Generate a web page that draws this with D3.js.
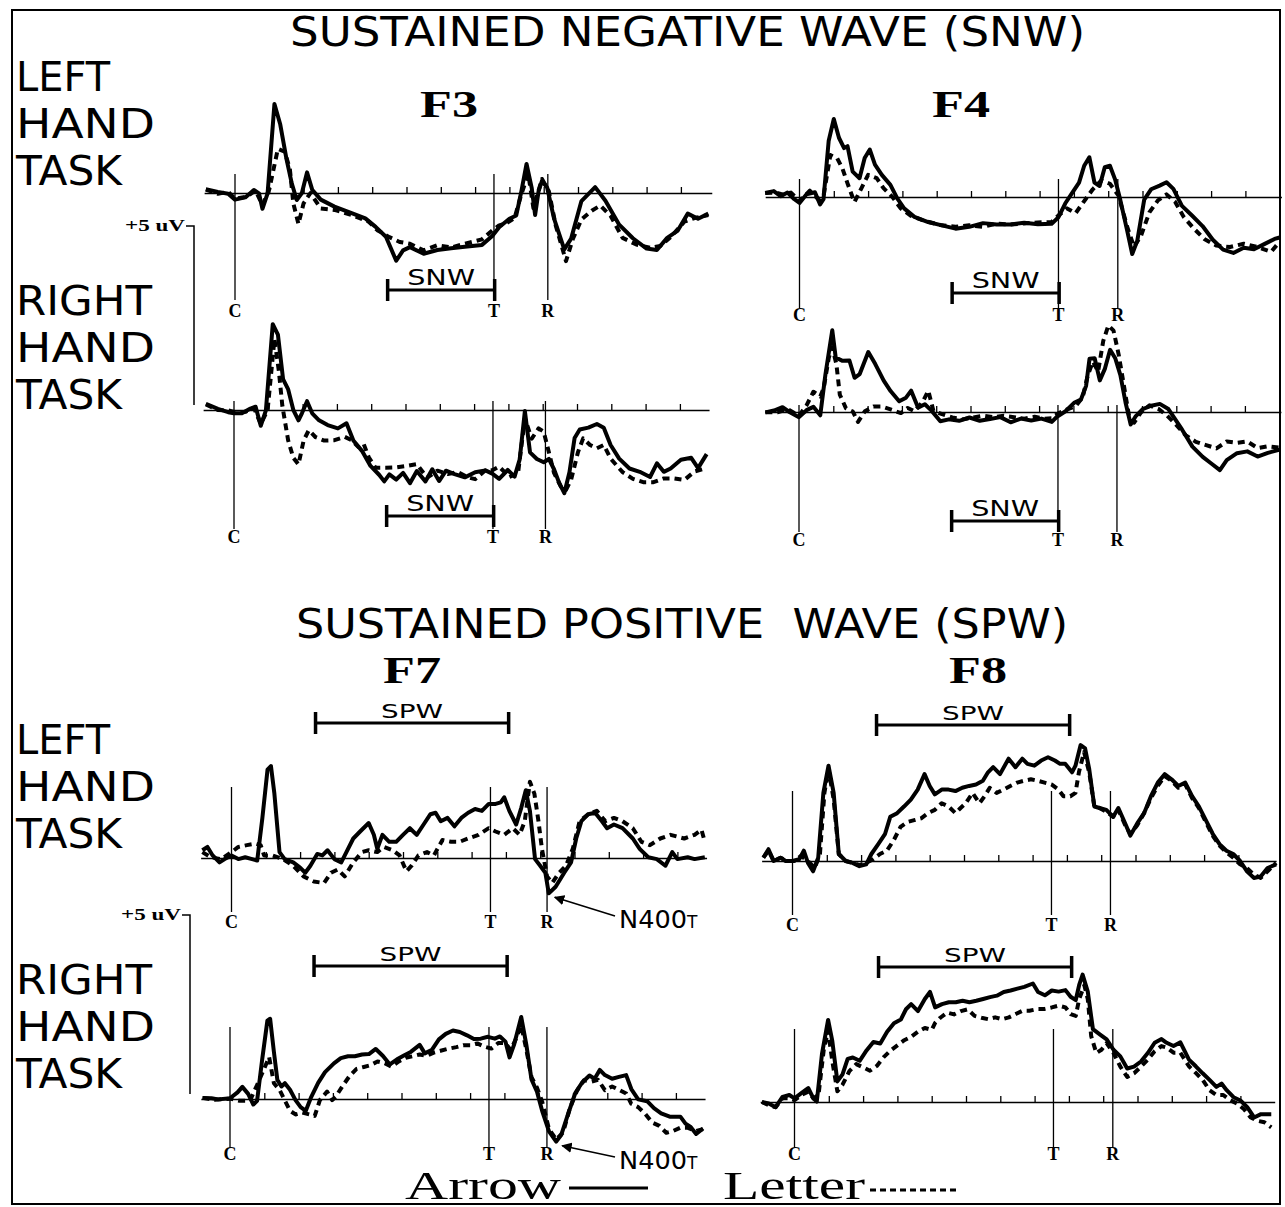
<!DOCTYPE html>
<html>
<head>
<meta charset="utf-8">
<script src="https://cdn.jsdelivr.net/npm/d3@7"></script>
<style>
  body { margin: 0; background: #fff; }
  svg { display: block; }
</style>
</head>
<body>
<div class="figure"></div>
<script>
// ERP waveforms, time in ms from cue (C), amplitude in microvolts (positive up)
const tickTimes = [100, 200, 300, 400, 500, 600, 700, 800, 900, 1000, 1100, 1200, 1300];
const cueTime = 0;
const targetTime = 755;
const responseTimes = [912, 928, 908, 927, 920, 927, 924, 928];
const snwWindow = [445, 757];
const spwWindow = [245, 808];

const f3LeftArrow = [[-85,0.1],[-50,0.03],[-20,-0.02],[0,-0.18],[30,-0.12],[55,0.08],[70,-0.01],[80,-0.43],[95,-0.01],[115,2.42],[132,1.86],[150,0.93],[165,0.28],[180,-0.19],[195,0],[210,0.56],[225,0.09],[250,-0.18],[290,-0.37],[340,-0.55],[380,-0.69],[410,-0.92],[440,-1.19],[470,-1.84],[490,-1.56],[510,-1.47],[550,-1.65],[590,-1.55],[630,-1.5],[670,-1.46],[720,-1.41],[750,-1.17],[770,-0.93],[800,-0.7],[820,-0.61],[835,0.05],[850,0.79],[865,0.14],[875,-0.6],[885,0.05],[895,0.33],[910,0.15],[930,-0.69],[960,-1.53],[980,-1.24],[1010,-0.22],[1050,0.16],[1080,-0.21],[1120,-0.86],[1160,-1.23],[1200,-1.51],[1230,-1.55],[1260,-1.22],[1290,-1.03],[1320,-0.56],[1350,-0.7],[1380,-0.56]];
const f3LeftLetter = [[-85,0.09],[-50,-0.02],[-20,0.03],[0,-0.16],[35,-0.1],[60,0.07],[80,-0.33],[100,0.1],[125,1.2],[145,1.12],[160,0.65],[170,-0.28],[185,-0.84],[200,-0.28],[220,0],[250,-0.42],[290,-0.46],[340,-0.6],[390,-0.78],[415,-1.01],[450,-1.2],[480,-1.33],[510,-1.38],[550,-1.56],[590,-1.42],[630,-1.48],[670,-1.38],[720,-1.26],[750,-1.02],[770,-0.88],[790,-0.83],[815,-0.68],[835,-0.03],[855,0.52],[870,-0.41],[895,0.38],[915,0.05],[935,-0.88],[965,-1.85],[985,-1.25],[1010,-0.72],[1040,-0.48],[1065,-0.34],[1095,-0.62],[1130,-1.22],[1170,-1.4],[1210,-1.49],[1240,-1.44],[1270,-1.2],[1310,-0.78],[1340,-0.68],[1380,-0.6]];

const f4LeftArrow = [[-100,0.11],[-75,0.16],[-55,0.02],[-35,0.12],[-15,-0.06],[0,-0.16],[20,0.07],[45,0.13],[60,-0.2],[70,-0.06],[85,1.52],[100,2.12],[115,1.61],[130,1.33],[140,1.38],[155,0.69],[175,0.51],[190,1.06],[205,1.29],[220,0.88],[240,0.6],[265,0.33],[285,-0.04],[305,-0.31],[335,-0.54],[375,-0.68],[415,-0.77],[455,-0.86],[495,-0.81],[535,-0.71],[575,-0.75],[615,-0.75],[655,-0.7],[695,-0.74],[735,-0.73],[755,-0.55],[775,-0.17],[795,0.11],[815,0.39],[830,0.85],[845,1.08],[860,0.39],[875,0.3],[890,0.81],[905,0.85],[920,0.48],[935,-0.07],[955,-0.9],[970,-1.55],[985,-1.18],[1005,-0.07],[1025,0.21],[1050,0.31],[1070,0.4],[1090,0.22],[1115,-0.24],[1145,-0.51],[1175,-0.79],[1205,-1.16],[1235,-1.43],[1265,-1.52],[1295,-1.38],[1325,-1.42],[1355,-1.28],[1385,-1.14],[1400,-1.1]];
const f4LeftLetter = [[-100,0.11],[-70,0.12],[-50,0.07],[-25,0.12],[0,-0.11],[30,0.17],[55,-0.06],[70,0.03],[90,1.14],[110,1.05],[125,0.78],[140,0.37],[160,-0.14],[180,0.23],[200,0.6],[225,0.51],[245,0.24],[270,0.01],[295,-0.31],[325,-0.51],[365,-0.65],[415,-0.77],[455,-0.81],[495,-0.77],[535,-0.81],[575,-0.72],[615,-0.75],[655,-0.72],[695,-0.69],[735,-0.68],[755,-0.5],[780,-0.31],[805,-0.44],[830,-0.11],[855,0.21],[880,0.45],[905,0.36],[930,0.04],[955,-0.8],[975,-1.35],[995,-1.07],[1020,-0.42],[1045,-0.09],[1070,0.07],[1095,-0.13],[1120,-0.54],[1150,-0.86],[1180,-1.14],[1215,-1.32],[1255,-1.36],[1295,-1.27],[1335,-1.36],[1375,-1.49],[1400,-1.21]];

const f3RightArrow = [[-82,0.17],[-47,0.03],[-17,-0.06],[0,-0.09],[23,-0.09],[48,0.04],[63,0.09],[78,-0.43],[93,-0.01],[113,2.33],[128,2.05],[143,0.84],[158,0.56],[173,0],[188,-0.28],[198,-0.09],[213,0.24],[228,-0.09],[248,-0.28],[273,-0.41],[303,-0.5],[328,-0.36],[348,-0.83],[373,-1.11],[398,-1.52],[423,-1.76],[438,-1.94],[453,-1.75],[473,-1.89],[493,-1.71],[513,-1.99],[533,-1.66],[558,-1.94],[578,-1.61],[598,-1.93],[618,-1.65],[643,-1.74],[673,-1.83],[703,-1.69],[733,-1.64],[753,-1.73],[773,-1.87],[798,-1.63],[818,-1.81],[833,-1.34],[848,-0.03],[863,-1.15],[883,-1.33],[903,-1.42],[918,-1.33],[933,-1.61],[948,-1.98],[963,-2.26],[978,-1.69],[993,-0.76],[1008,-0.53],[1033,-0.48],[1058,-0.38],[1078,-0.48],[1098,-0.95],[1123,-1.32],[1153,-1.59],[1183,-1.68],[1213,-1.82],[1233,-1.45],[1253,-1.68],[1273,-1.59],[1303,-1.35],[1333,-1.3],[1353,-1.58],[1378,-1.2]];
const f3RightLetter = [[-82,0.15],[-47,0],[-17,-0.01],[3,-0.06],[33,-0.05],[58,0.06],[78,-0.38],[98,0],[118,1.93],[131,1.04],[141,0.11],[158,-0.83],[173,-1.3],[188,-1.48],[203,-0.83],[218,-0.55],[238,-0.74],[263,-0.83],[293,-0.82],[323,-0.73],[343,-0.82],[363,-1.01],[378,-0.92],[393,-1.29],[413,-1.57],[443,-1.57],[473,-1.56],[503,-1.52],[533,-1.47],[563,-1.84],[593,-1.65],[623,-1.74],[653,-1.69],[683,-1.83],[703,-1.88],[733,-1.64],[753,-1.64],[773,-1.54],[803,-1.82],[828,-1.72],[848,-0.23],[868,-0.78],[888,-0.5],[903,-0.59],[918,-1.15],[933,-1.71],[953,-2.08],[968,-2.17],[983,-1.89],[1003,-1.14],[1018,-0.77],[1038,-0.95],[1058,-1.04],[1078,-0.95],[1098,-1.32],[1133,-1.69],[1163,-1.87],[1193,-1.96],[1223,-1.96],[1253,-1.86],[1283,-1.86],[1313,-1.9],[1343,-1.67],[1378,-1.58]];

const f4RightArrow = [[-98,-0.01],[-73,0.04],[-48,0.13],[-28,0],[0,-0.14],[22,0.05],[42,0.14],[62,-0.09],[77,1.02],[97,2.22],[107,1.48],[127,1.39],[147,1.4],[162,0.93],[177,1.03],[202,1.63],[222,1.31],[247,0.85],[267,0.57],[292,0.29],[312,0.39],[327,0.58],[347,0.12],[367,0.21],[387,0.03],[412,-0.25],[437,-0.2],[467,-0.24],[497,-0.15],[527,-0.24],[557,-0.19],[587,-0.14],[617,-0.28],[647,-0.18],[677,-0.23],[707,-0.18],[737,-0.27],[752,-0.13],[777,0.02],[802,0.25],[822,0.34],[837,0.71],[847,1.45],[862,1.46],[877,0.86],[892,1.18],[907,1.69],[922,1.46],[937,1],[952,0.26],[967,-0.34],[982,-0.11],[1002,0.08],[1027,0.17],[1052,0.22],[1077,0.08],[1097,-0.2],[1117,-0.48],[1147,-0.94],[1177,-1.22],[1202,-1.4],[1227,-1.58],[1247,-1.31],[1277,-1.12],[1307,-1.07],[1337,-1.21],[1367,-1.11],[1402,-1.02]];
const f4RightLetter = [[-98,-0.01],[-63,-0.01],[-33,0.08],[0,-0.1],[22,0.18],[42,0.55],[62,0.42],[72,0.65],[87,1.48],[97,1.76],[109,1.3],[119,0.47],[137,0.1],[157,0.01],[172,-0.27],[192,0.02],[217,0.15],[242,0.15],[267,0.07],[297,-0.03],[317,0.11],[337,0.02],[362,0.3],[377,0.58],[392,0.03],[417,-0.06],[447,-0.15],[477,-0.2],[507,-0.15],[537,-0.1],[567,-0.14],[597,-0.1],[627,-0.14],[657,-0.18],[687,-0.13],[717,-0.18],[737,-0.17],[757,-0.03],[782,0.07],[807,0.16],[827,0.4],[842,1],[857,1.37],[872,1.1],[887,1.93],[902,2.35],[917,2.21],[932,1.56],[947,0.73],[962,-0.1],[977,-0.29],[997,-0.01],[1022,0.18],[1047,0.09],[1072,-0.09],[1097,-0.32],[1127,-0.63],[1157,-0.81],[1187,-0.9],[1217,-0.99],[1247,-0.8],[1277,-0.84],[1307,-0.8],[1337,-0.98],[1367,-0.93],[1402,-0.97]];

const f7LeftArrow = [[-85,0.21],[-70,0.3],[-55,0.07],[-35,-0.12],[-20,-0.03],[0,0.07],[20,-0.03],[40,0.02],[60,-0.03],[75,-0.07],[90,1.09],[105,2.4],[115,2.5],[125,1.75],[140,0.16],[155,-0.03],[180,-0.12],[200,-0.26],[215,-0.4],[230,-0.21],[250,0.11],[265,0.07],[280,0.21],[300,-0.03],[320,-0.12],[335,0.16],[355,0.53],[375,0.72],[400,0.95],[415,0.63],[425,0.25],[440,0.63],[460,0.44],[480,0.44],[500,0.63],[520,0.81],[540,0.63],[560,0.91],[580,1.19],[595,1.23],[610,1],[630,1.09],[650,0.86],[670,1.09],[690,1.23],[710,1.33],[730,1.28],[750,1.47],[770,1.47],[785,1.51],[795,1.65],[810,1.28],[830,0.91],[845,1.37],[858,1.84],[870,1.28],[885,-0.03],[900,-0.21],[915,-0.4],[925,-0.96],[945,-0.78],[970,-0.4],[990,-0.12],[1005,0.53],[1020,1],[1040,1.19],[1060,1.23],[1080,1],[1095,0.81],[1115,0.91],[1140,0.81],[1170,0.53],[1190,0.25],[1215,0.02],[1240,-0.03],[1265,-0.21],[1285,0.16],[1300,-0.03],[1330,0.02],[1350,-0.03],[1380,0.02]];
const f7LeftLetter = [[-85,0.16],[-60,0.02],[-30,-0.03],[0,0.16],[20,0.3],[45,0.35],[70,0.39],[85,0.35],[95,0.07],[120,0.07],[150,-0.03],[180,-0.21],[210,-0.5],[240,-0.64],[270,-0.68],[290,-0.4],[310,-0.31],[330,-0.5],[355,-0.12],[380,0.16],[400,0.21],[425,0.16],[445,0.3],[470,0.21],[490,0.07],[510,-0.36],[525,-0.21],[545,0.07],[570,0.16],[590,0.07],[615,0.49],[640,0.44],[665,0.44],[690,0.53],[720,0.63],[750,0.81],[770,0.72],[795,0.63],[820,0.81],[840,0.63],[855,1],[870,2.07],[883,1.75],[895,1],[905,0.25],[920,-0.5],[935,-0.68],[955,-0.4],[975,-0.21],[995,0.25],[1015,1],[1040,1.19],[1065,1.28],[1090,1],[1115,1.09],[1140,1],[1170,0.81],[1195,0.44],[1220,0.35],[1250,0.53],[1280,0.63],[1320,0.53],[1350,0.63],[1370,0.77],[1380,0.44]];

const f8LeftArrow = [[-85,0.09],[-70,0.32],[-55,0],[-35,0.09],[-20,0],[0,0],[20,0.05],[33,0.28],[45,-0.05],[60,-0.28],[75,0.09],[90,1.85],[105,2.59],[120,1.85],[135,0.19],[155,0],[175,-0.05],[195,-0.14],[215,-0.09],[230,0.19],[250,0.46],[270,0.74],[285,1.2],[305,1.3],[325,1.48],[345,1.67],[365,1.94],[385,2.36],[400,2.04],[415,1.81],[435,1.94],[455,1.94],[475,1.9],[495,1.99],[515,2.04],[535,2.08],[555,2.18],[570,2.41],[585,2.55],[605,2.36],[630,2.78],[650,2.55],[670,2.78],[685,2.64],[705,2.59],[725,2.73],[745,2.82],[765,2.73],[780,2.64],[795,2.64],[815,2.41],[825,2.59],[840,3.15],[853,3.06],[865,2.5],[880,1.48],[895,1.44],[915,1.39],[935,1.2],[950,1.44],[970,1.02],[985,0.69],[1005,1.02],[1025,1.3],[1045,1.76],[1065,2.13],[1085,2.36],[1105,2.22],[1125,2.04],[1145,2.13],[1165,1.76],[1185,1.48],[1205,1.11],[1225,0.74],[1245,0.46],[1265,0.28],[1285,0.19],[1305,0],[1325,-0.28],[1345,-0.46],[1365,-0.42],[1385,-0.19],[1410,-0.09]];
const f8LeftLetter = [[-85,0.09],[-70,0.28],[-55,0],[-35,0.09],[-15,0],[5,0],[25,0.14],[45,0],[65,-0.19],[80,0.19],[93,1.85],[105,2.5],[120,1.67],[135,0.19],[155,0],[175,-0.05],[195,-0.11],[215,-0.05],[235,0.05],[255,0.19],[275,0.28],[295,0.56],[315,0.93],[335,1.06],[355,1.11],[375,1.16],[395,1.3],[415,1.39],[435,1.57],[455,1.48],[475,1.3],[490,1.44],[505,1.57],[525,1.85],[545,1.57],[560,1.76],[575,1.99],[595,1.85],[615,1.94],[635,2.04],[655,2.13],[675,2.18],[695,2.22],[715,2.18],[735,2.13],[755,2.08],[775,1.94],[790,1.76],[810,1.76],[825,1.85],[835,2.41],[850,2.96],[865,2.41],[880,1.48],[895,1.44],[915,1.34],[935,1.2],[950,1.39],[970,0.97],[985,0.74],[1005,0.97],[1025,1.3],[1045,1.71],[1065,2.04],[1085,2.31],[1105,2.18],[1125,1.99],[1145,2.08],[1165,1.71],[1185,1.44],[1205,1.06],[1225,0.69],[1245,0.42],[1265,0.23],[1285,0.09],[1305,-0.09],[1325,-0.19],[1345,-0.37],[1365,-0.46],[1385,-0.28],[1410,-0.05]];

const f7RightArrow = [[-80,0.03],[-54,0.02],[-34,-0.01],[0,0.02],[22,0.18],[36,0.33],[53,0.14],[68,-0.15],[79,-0.05],[94,1.09],[109,2.13],[117,2.18],[128,1.28],[138,0.52],[150,0.34],[160,0.43],[175,0.25],[191,-0.03],[206,-0.22],[221,-0.32],[237,0.06],[257,0.44],[277,0.73],[303,0.97],[323,1.11],[344,1.16],[364,1.16],[385,1.21],[405,1.22],[425,1.36],[446,1.17],[466,0.94],[487,1.08],[507,1.18],[527,1.28],[553,1.47],[568,1.24],[589,1.34],[609,1.62],[629,1.77],[650,1.86],[670,1.82],[691,1.73],[711,1.63],[731,1.64],[752,1.69],[772,1.64],[787,1.7],[803,1.56],[815,1.13],[828,1.47],[849,2.23],[864,1.47],[879,0.53],[895,0.2],[910,-0.32],[930,-0.88],[951,-1.16],[966,-0.97],[986,-0.4],[1007,0.17],[1027,0.45],[1048,0.64],[1063,0.55],[1078,0.79],[1093,0.65],[1114,0.55],[1134,0.6],[1155,0.65],[1170,0.27],[1190,-0.01],[1216,-0.06],[1236,-0.25],[1257,-0.39],[1282,-0.48],[1313,-0.48],[1328,-0.67],[1343,-0.76],[1359,-0.95],[1379,-0.8]];
const f7RightLetter = [[-80,0.03],[-44,-0.02],[0,0.01],[28,-0.05],[58,-0.05],[79,0.38],[99,0.81],[114,1.14],[128,0.43],[145,0.24],[160,-0.04],[175,-0.32],[191,-0.42],[211,-0.37],[232,-0.42],[247,-0.46],[262,-0.03],[283,0.2],[298,-0.03],[308,0.06],[328,0.35],[349,0.63],[369,0.82],[390,0.87],[410,0.92],[430,1.02],[451,0.97],[471,0.88],[492,1.02],[512,1.12],[532,1.16],[553,1.21],[573,1.17],[594,1.26],[614,1.31],[634,1.36],[660,1.41],[680,1.46],[701,1.46],[721,1.51],[742,1.42],[762,1.37],[782,1.52],[803,1.52],[818,1.33],[833,1.62],[849,2],[864,1.34],[879,0.59],[895,0.31],[910,-0.07],[930,-0.82],[951,-1.1],[971,-0.91],[991,-0.25],[1012,0.23],[1032,0.51],[1053,0.47],[1073,0.52],[1093,0.24],[1114,0.34],[1134,0.25],[1155,0.15],[1170,-0.13],[1190,-0.22],[1211,-0.41],[1231,-0.64],[1252,-0.73],[1272,-0.92],[1292,-0.87],[1313,-0.78],[1333,-0.78],[1359,-0.87],[1379,-0.82]];

const f8RightArrow = [[-95,0],[-75,-0.04],[-55,-0.14],[-35,0.14],[-15,0.19],[0,0.1],[20,0.24],[40,0.38],[55,0.1],[65,0.01],[80,1.3],[98,2.23],[110,1.67],[125,0.56],[140,0.75],[155,1.17],[170,1.21],[190,1.12],[210,1.4],[230,1.63],[250,1.59],[270,1.91],[290,2.14],[310,2.24],[325,2.52],[340,2.66],[360,2.47],[380,2.8],[395,2.99],[410,2.57],[430,2.66],[450,2.71],[470,2.71],[490,2.75],[510,2.71],[530,2.75],[550,2.8],[570,2.85],[590,2.89],[610,2.99],[630,3.03],[650,3.08],[670,3.13],[695,3.22],[710,2.99],[730,2.9],[750,3.03],[770,3],[790,3.04],[805,2.86],[820,2.77],[830,3.18],[840,3.46],[855,3],[870,1.98],[890,1.84],[910,1.7],[930,1.42],[950,1.24],[970,0.91],[990,0.96],[1010,1.1],[1030,1.33],[1050,1.61],[1070,1.71],[1085,1.61],[1105,1.52],[1125,1.62],[1150,1.15],[1170,0.97],[1190,0.78],[1210,0.6],[1230,0.41],[1245,0.5],[1260,0.32],[1280,0.13],[1300,0.04],[1320,-0.14],[1340,-0.42],[1360,-0.33],[1390,-0.33]];
const f8RightLetter = [[-95,0],[-75,-0.09],[-55,-0.14],[-35,0.1],[-15,0.1],[0,0.05],[20,0.19],[40,0.28],[55,0.1],[70,0.19],[85,1.4],[98,1.95],[110,1.12],[125,0.29],[140,0.47],[160,0.84],[180,1.03],[200,0.94],[220,0.85],[240,0.98],[260,1.22],[280,1.4],[300,1.54],[320,1.68],[340,1.77],[360,1.91],[380,2.01],[400,1.96],[410,2.15],[425,2.29],[445,2.43],[465,2.38],[485,2.47],[505,2.52],[525,2.34],[545,2.29],[565,2.25],[585,2.3],[605,2.25],[625,2.3],[645,2.39],[665,2.48],[685,2.48],[710,2.53],[730,2.53],[750,2.57],[770,2.62],[790,2.57],[805,2.39],[820,2.34],[830,2.8],[845,3.17],[855,2.8],[865,1.79],[880,1.33],[895,1.42],[910,1.6],[930,1.33],[950,0.96],[970,0.68],[990,0.78],[1010,0.96],[1030,1.15],[1050,1.38],[1070,1.52],[1085,1.48],[1105,1.34],[1125,1.34],[1150,0.97],[1170,0.79],[1190,0.6],[1210,0.32],[1230,0.19],[1250,0.19],[1270,0.05],[1290,-0.04],[1310,-0.19],[1330,-0.42],[1350,-0.51],[1370,-0.55],[1390,-0.69]];

const width = 1285;
const height = 1207;
const pxPerMs = 0.343;
const pxPerFiveUv = 184;

const svg = d3
  .select(".figure")
  .append("svg")
  .attr("width", width)
  .attr("height", height);

const sans = "'DejaVu Sans', sans-serif";
const serif = "'Liberation Serif', 'DejaVu Serif', serif";

// outer frame
svg.append("rect")
  .attr("x", 12).attr("y", 10)
  .attr("width", 1268).attr("height", 1194)
  .attr("fill", "none").attr("stroke", "#000").attr("stroke-width", 2);

// layout of the eight panels (positions only)
const panels = [
  { arrow: f3LeftArrow, letter: f3LeftLetter, resp: responseTimes[0], cx: 235, base: 193, t0: -90, t1: 1390, vTop: -19, vBot: 107, lab: 124, bar: "SNW", barDy: 97 },
  { arrow: f4LeftArrow, letter: f4LeftLetter, resp: responseTimes[1], cx: 799.5, base: 197, t0: -100, t1: 1405, vTop: -18, vBot: 111, lab: 124, bar: "SNW", barDy: 96 },
  { arrow: f3RightArrow, letter: f3RightLetter, resp: responseTimes[2], cx: 234, base: 410, t0: -90, t1: 1385, vTop: -9, vBot: 119, lab: 133, bar: "SNW", barDy: 106 },
  { arrow: f4RightArrow, letter: f4RightLetter, resp: responseTimes[3], cx: 799, base: 412, t0: -100, t1: 1405, vTop: -7, vBot: 120, lab: 134, bar: "SNW", barDy: 109 },
  { arrow: f7LeftArrow, letter: f7LeftLetter, resp: responseTimes[4], cx: 231.5, base: 858, t0: -90, t1: 1385, vTop: -71, vBot: 54, lab: 70, bar: "SPW", barDy: -135, n400: true },
  { arrow: f8LeftArrow, letter: f8LeftLetter, resp: responseTimes[5], cx: 792.5, base: 861, t0: -90, t1: 1410, vTop: -70, vBot: 54, lab: 70, bar: "SPW", barDy: -136 },
  { arrow: f7RightArrow, letter: f7RightLetter, resp: responseTimes[6], cx: 230, base: 1099, t0: -85, t1: 1385, vTop: -72, vBot: 49, lab: 61, bar: "SPW", barDy: -133, n400: true },
  { arrow: f8RightArrow, letter: f8RightLetter, resp: responseTimes[7], cx: 794.5, base: 1102, t0: -100, t1: 1400, vTop: -73, vBot: 46, lab: 58, bar: "SPW", barDy: -135 }
];

panels.forEach((p) => {
  const x = d3.scaleLinear()
    .domain([p.t0, p.t1])
    .range([p.cx + p.t0 * pxPerMs, p.cx + p.t1 * pxPerMs]);
  const y = d3.scaleLinear().domain([0, 5]).range([p.base, p.base - pxPerFiveUv]);
  p.x = x;
  p.y = y;
  const g = svg.append("g");

  // zero line with time ticks
  const axis = g.append("g")
    .attr("transform", `translate(0,${y(0)})`)
    .call(d3.axisTop(x).tickValues(tickTimes).tickSize(6).tickSizeOuter(0).tickFormat(""));
  axis.select(".domain").attr("stroke-width", 1.6);
  axis.selectAll(".tick line").attr("stroke-width", 1.3);

  // C, T, R markers
  const markers = [["C", cueTime], ["T", targetTime], ["R", p.resp]];
  g.selectAll("line.marker")
    .data(markers)
    .enter()
    .append("line")
    .attr("x1", (d) => x(d[1]))
    .attr("x2", (d) => x(d[1]))
    .attr("y1", p.base + p.vTop)
    .attr("y2", p.base + p.vBot)
    .attr("stroke", "#000")
    .attr("stroke-width", 1.3);
  g.selectAll("text.marker")
    .data(markers)
    .enter()
    .append("text")
    .attr("x", (d) => x(d[1]))
    .attr("y", p.base + p.lab)
    .attr("text-anchor", "middle")
    .attr("font-family", serif)
    .attr("font-weight", "bold")
    .attr("font-size", 18)
    .text((d) => d[0]);

  // analysis window bar
  const win = p.bar === "SNW" ? snwWindow : spwWindow;
  const by = p.base + p.barDy;
  g.append("line")
    .attr("x1", x(win[0])).attr("x2", x(win[1]))
    .attr("y1", by).attr("y2", by)
    .attr("stroke", "#000").attr("stroke-width", 3);
  g.selectAll("line.cap")
    .data(win)
    .enter()
    .append("line")
    .attr("x1", (d) => x(d)).attr("x2", (d) => x(d))
    .attr("y1", by - 11).attr("y2", by + 11)
    .attr("stroke", "#000").attr("stroke-width", 3.5);
  g.append("text")
    .attr("x", x((win[0] + win[1]) / 2))
    .attr("y", by - 5)
    .attr("text-anchor", "middle")
    .attr("font-family", sans)
    .attr("font-size", p.bar === "SNW" ? 21 : 19)
    .attr("textLength", p.bar === "SNW" ? 68 : 62)
    .attr("lengthAdjust", "spacingAndGlyphs")
    .text(p.bar);

  // the two waveforms
  const line = d3.line()
    .x((d) => x(d[0]))
    .y((d) => y(d[1]));
  g.append("path")
    .datum(p.arrow)
    .attr("d", line)
    .attr("fill", "none")
    .attr("stroke", "#000")
    .attr("stroke-width", 4)
    .attr("stroke-linejoin", "round");
  g.append("path")
    .datum(p.letter)
    .attr("d", line)
    .attr("fill", "none")
    .attr("stroke", "#000")
    .attr("stroke-width", 4)
    .attr("stroke-dasharray", "7,5")
    .attr("stroke-linejoin", "round");
});

// N400T arrows (to the dip of the Arrow wave after R)
svg.append("defs").append("marker")
  .attr("id", "head")
  .attr("viewBox", "0 0 10 10")
  .attr("refX", 9).attr("refY", 5)
  .attr("markerWidth", 7).attr("markerHeight", 7)
  .attr("orient", "auto")
  .append("path")
  .attr("d", "M0,0 L10,5 L0,10 z")
  .attr("fill", "#000");

panels.filter((p) => p.n400).forEach((p) => {
  const dip = p.arrow.reduce((a, b) => (b[0] > 880 && b[1] < a[1] ? b : a), [0, 0]);
  const tx = 619;
  const ty = p.base + 70;
  svg.append("line")
    .attr("x1", tx - 4).attr("y1", ty - 12)
    .attr("x2", p.x(dip[0]) + 6).attr("y2", p.y(dip[1]) + 4)
    .attr("stroke", "#000").attr("stroke-width", 1.5)
    .attr("marker-end", "url(#head)");
  const t = svg.append("text")
    .attr("x", tx).attr("y", ty)
    .attr("font-family", sans)
    .attr("font-size", 25);
  t.append("tspan").attr("textLength", 68).attr("lengthAdjust", "spacingAndGlyphs").text("N400");
  t.append("tspan").attr("font-size", 17).text("T");
});

// calibration bars, +5 uV
[panels[2], panels[6]].forEach((p, i) => {
  const bx = i === 0 ? 194 : 190;
  svg.append("path")
    .attr("d", `M${bx - 8},${p.y(5)} H${bx} V${p.y(0) - 5}`)
    .attr("fill", "none").attr("stroke", "#000").attr("stroke-width", 1.5);
  svg.append("text")
    .attr("x", bx - 9).attr("y", p.y(5) + 5)
    .attr("text-anchor", "end")
    .attr("font-family", serif)
    .attr("font-weight", "bold")
    .attr("font-size", 17)
    .attr("textLength", 60)
    .attr("lengthAdjust", "spacingAndGlyphs")
    .text("+5 uV");
});

// headings
const headings = [
  { text: "SUSTAINED NEGATIVE WAVE (SNW)", x: 290, y: 46, len: 795 },
  { text: "SUSTAINED POSITIVE  WAVE (SPW)", x: 296, y: 638, len: 772 }
];
svg.selectAll("text.heading")
  .data(headings)
  .enter()
  .append("text")
  .attr("x", (d) => d.x)
  .attr("y", (d) => d.y)
  .attr("font-family", sans)
  .attr("font-size", 41)
  .attr("textLength", (d) => d.len)
  .attr("lengthAdjust", "spacingAndGlyphs")
  .style("white-space", "pre")
  .text((d) => d.text);

const sideLabels = [
  ["LEFT", 91, 94], ["HAND", 138, 139], ["TASK", 185, 106],
  ["RIGHT", 315, 136], ["HAND", 362, 139], ["TASK", 409, 106],
  ["LEFT", 754, 94], ["HAND", 801, 139], ["TASK", 848, 106],
  ["RIGHT", 994, 136], ["HAND", 1041, 139], ["TASK", 1088, 106]
];
svg.selectAll("text.side")
  .data(sideLabels)
  .enter()
  .append("text")
  .attr("x", 16)
  .attr("y", (d) => d[1])
  .attr("font-family", sans)
  .attr("font-size", 41)
  .attr("textLength", (d) => d[2])
  .attr("lengthAdjust", "spacingAndGlyphs")
  .text((d) => d[0]);

const electrodes = [["F3", 449, 117], ["F4", 961, 117], ["F7", 412, 683], ["F8", 978, 683]];
svg.selectAll("text.electrode")
  .data(electrodes)
  .enter()
  .append("text")
  .attr("x", (d) => d[1])
  .attr("y", (d) => d[2])
  .attr("text-anchor", "middle")
  .attr("font-family", serif)
  .attr("font-weight", "bold")
  .attr("font-size", 38)
  .attr("textLength", 58)
  .attr("lengthAdjust", "spacingAndGlyphs")
  .text((d) => d[0]);

// legend
svg.append("text")
  .attr("x", 405).attr("y", 1199)
  .attr("font-family", serif).attr("font-size", 39)
  .attr("textLength", 156).attr("lengthAdjust", "spacingAndGlyphs")
  .text("Arrow");
svg.append("line")
  .attr("x1", 569).attr("x2", 648).attr("y1", 1188).attr("y2", 1188)
  .attr("stroke", "#000").attr("stroke-width", 3);
svg.append("text")
  .attr("x", 723).attr("y", 1199)
  .attr("font-family", serif).attr("font-size", 39)
  .attr("textLength", 142).attr("lengthAdjust", "spacingAndGlyphs")
  .text("Letter");
svg.append("line")
  .attr("x1", 870).attr("x2", 960).attr("y1", 1190).attr("y2", 1190)
  .attr("stroke", "#000").attr("stroke-width", 3)
  .attr("stroke-dasharray", "6,4");
</script>
</body>
</html>
